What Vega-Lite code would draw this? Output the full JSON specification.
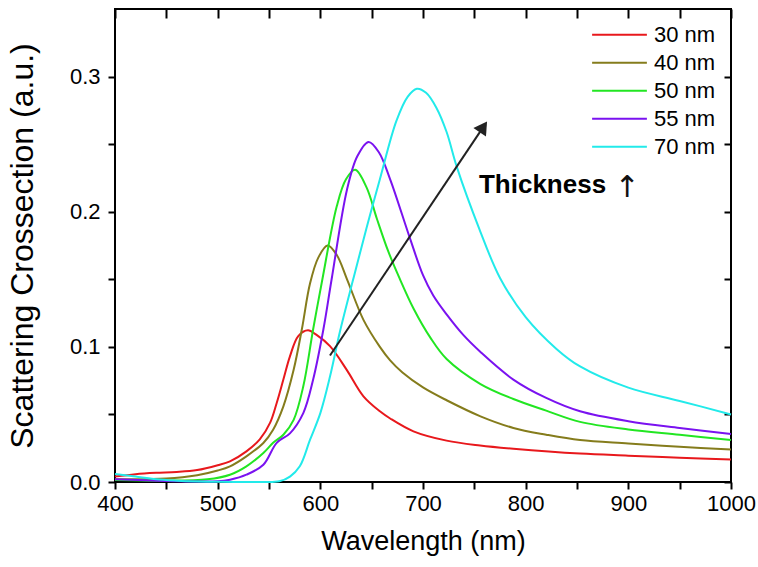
{
  "$schema": "https://vega.github.io/schema/vega-lite/v6.json",
  "width": 616,
  "height": 473,
  "autosize": {"type": "none"},
  "padding": {"left": 115, "top": 9, "right": 27, "bottom": 85},
  "background": "#ffffff",
  "config": {
    "view": {"stroke": "#000000", "strokeWidth": 2},
    "font": "Liberation Sans"
  },
  "datasets": {
    "curves": [
      {"series": "30 nm", "wl": 400, "val": 0.004},
      {"series": "30 nm", "wl": 420, "val": 0.0058},
      {"series": "30 nm", "wl": 440, "val": 0.0068},
      {"series": "30 nm", "wl": 460, "val": 0.0074},
      {"series": "30 nm", "wl": 480, "val": 0.0088},
      {"series": "30 nm", "wl": 500, "val": 0.0124},
      {"series": "30 nm", "wl": 512, "val": 0.0153},
      {"series": "30 nm", "wl": 528, "val": 0.0227},
      {"series": "30 nm", "wl": 541, "val": 0.0315},
      {"series": "30 nm", "wl": 551, "val": 0.0437},
      {"series": "30 nm", "wl": 557.5, "val": 0.0585},
      {"series": "30 nm", "wl": 564, "val": 0.0758},
      {"series": "30 nm", "wl": 570.4, "val": 0.093},
      {"series": "30 nm", "wl": 578.5, "val": 0.108},
      {"series": "30 nm", "wl": 588, "val": 0.1123},
      {"series": "30 nm", "wl": 596, "val": 0.109},
      {"series": "30 nm", "wl": 609.4, "val": 0.1005},
      {"series": "30 nm", "wl": 625.7, "val": 0.083},
      {"series": "30 nm", "wl": 642, "val": 0.0634},
      {"series": "30 nm", "wl": 658, "val": 0.0523},
      {"series": "30 nm", "wl": 668, "val": 0.047},
      {"series": "30 nm", "wl": 690.7, "val": 0.0375},
      {"series": "30 nm", "wl": 723, "val": 0.0306},
      {"series": "30 nm", "wl": 755.6, "val": 0.027},
      {"series": "30 nm", "wl": 788, "val": 0.0246},
      {"series": "30 nm", "wl": 853, "val": 0.021},
      {"series": "30 nm", "wl": 900, "val": 0.0195},
      {"series": "30 nm", "wl": 950, "val": 0.018},
      {"series": "30 nm", "wl": 1000, "val": 0.0166},

      {"series": "40 nm", "wl": 400, "val": 0.002},
      {"series": "40 nm", "wl": 450, "val": 0.0025},
      {"series": "40 nm", "wl": 480, "val": 0.005},
      {"series": "40 nm", "wl": 500, "val": 0.0085},
      {"series": "40 nm", "wl": 512, "val": 0.0116},
      {"series": "40 nm", "wl": 528, "val": 0.019},
      {"series": "40 nm", "wl": 544.5, "val": 0.0289},
      {"series": "40 nm", "wl": 554, "val": 0.0387},
      {"series": "40 nm", "wl": 564, "val": 0.056},
      {"series": "40 nm", "wl": 574, "val": 0.083},
      {"series": "40 nm", "wl": 582, "val": 0.113},
      {"series": "40 nm", "wl": 590, "val": 0.147},
      {"series": "40 nm", "wl": 598, "val": 0.166},
      {"series": "40 nm", "wl": 607, "val": 0.175},
      {"series": "40 nm", "wl": 616, "val": 0.168},
      {"series": "40 nm", "wl": 626, "val": 0.15},
      {"series": "40 nm", "wl": 642, "val": 0.12},
      {"series": "40 nm", "wl": 658, "val": 0.1},
      {"series": "40 nm", "wl": 668, "val": 0.09},
      {"series": "40 nm", "wl": 680, "val": 0.081},
      {"series": "40 nm", "wl": 700, "val": 0.07},
      {"series": "40 nm", "wl": 723, "val": 0.0605},
      {"series": "40 nm", "wl": 756, "val": 0.0486},
      {"series": "40 nm", "wl": 788, "val": 0.04},
      {"series": "40 nm", "wl": 820, "val": 0.035},
      {"series": "40 nm", "wl": 853, "val": 0.031},
      {"series": "40 nm", "wl": 900, "val": 0.0285},
      {"series": "40 nm", "wl": 950, "val": 0.026},
      {"series": "40 nm", "wl": 1000, "val": 0.024},

      {"series": "50 nm", "wl": 400, "val": 0.0015},
      {"series": "50 nm", "wl": 450, "val": 0.001},
      {"series": "50 nm", "wl": 490, "val": 0.002},
      {"series": "50 nm", "wl": 512, "val": 0.0054},
      {"series": "50 nm", "wl": 528, "val": 0.0116},
      {"series": "50 nm", "wl": 544.5, "val": 0.0215},
      {"series": "50 nm", "wl": 554, "val": 0.029},
      {"series": "50 nm", "wl": 564, "val": 0.035},
      {"series": "50 nm", "wl": 574, "val": 0.046},
      {"series": "50 nm", "wl": 583.4, "val": 0.0708},
      {"series": "50 nm", "wl": 593, "val": 0.113},
      {"series": "50 nm", "wl": 602, "val": 0.15},
      {"series": "50 nm", "wl": 616, "val": 0.204},
      {"series": "50 nm", "wl": 625, "val": 0.224},
      {"series": "50 nm", "wl": 634, "val": 0.231},
      {"series": "50 nm", "wl": 645, "val": 0.218},
      {"series": "50 nm", "wl": 655, "val": 0.195},
      {"series": "50 nm", "wl": 666, "val": 0.171},
      {"series": "50 nm", "wl": 677, "val": 0.151},
      {"series": "50 nm", "wl": 691, "val": 0.128},
      {"series": "50 nm", "wl": 707, "val": 0.107},
      {"series": "50 nm", "wl": 723, "val": 0.091},
      {"series": "50 nm", "wl": 756, "val": 0.0725},
      {"series": "50 nm", "wl": 788, "val": 0.0614},
      {"series": "50 nm", "wl": 820, "val": 0.0528},
      {"series": "50 nm", "wl": 853, "val": 0.0445},
      {"series": "50 nm", "wl": 900, "val": 0.0389},
      {"series": "50 nm", "wl": 950, "val": 0.035},
      {"series": "50 nm", "wl": 1000, "val": 0.031},

      {"series": "55 nm", "wl": 400, "val": 0.002},
      {"series": "55 nm", "wl": 450, "val": 0.0008},
      {"series": "55 nm", "wl": 500, "val": 0.0005},
      {"series": "55 nm", "wl": 512, "val": 0.0017},
      {"series": "55 nm", "wl": 528, "val": 0.0054},
      {"series": "55 nm", "wl": 544.5, "val": 0.0128},
      {"series": "55 nm", "wl": 557.5, "val": 0.029},
      {"series": "55 nm", "wl": 570.4, "val": 0.036},
      {"series": "55 nm", "wl": 583.4, "val": 0.051},
      {"series": "55 nm", "wl": 593, "val": 0.0758},
      {"series": "55 nm", "wl": 603, "val": 0.113},
      {"series": "55 nm", "wl": 611, "val": 0.15},
      {"series": "55 nm", "wl": 626, "val": 0.2165},
      {"series": "55 nm", "wl": 636, "val": 0.241},
      {"series": "55 nm", "wl": 647, "val": 0.2516},
      {"series": "55 nm", "wl": 657, "val": 0.244},
      {"series": "55 nm", "wl": 668, "val": 0.224},
      {"series": "55 nm", "wl": 687, "val": 0.181},
      {"series": "55 nm", "wl": 700, "val": 0.153},
      {"series": "55 nm", "wl": 710, "val": 0.138},
      {"series": "55 nm", "wl": 723, "val": 0.124},
      {"series": "55 nm", "wl": 739, "val": 0.109},
      {"series": "55 nm", "wl": 756, "val": 0.0962},
      {"series": "55 nm", "wl": 788, "val": 0.0758},
      {"series": "55 nm", "wl": 820, "val": 0.0622},
      {"series": "55 nm", "wl": 853, "val": 0.0523},
      {"series": "55 nm", "wl": 900, "val": 0.045},
      {"series": "55 nm", "wl": 950, "val": 0.04},
      {"series": "55 nm", "wl": 1000, "val": 0.0356},

      {"series": "70 nm", "wl": 400, "val": 0.006},
      {"series": "70 nm", "wl": 420, "val": 0.004},
      {"series": "70 nm", "wl": 440, "val": 0.002},
      {"series": "70 nm", "wl": 460, "val": 0.001},
      {"series": "70 nm", "wl": 480, "val": 0.0004},
      {"series": "70 nm", "wl": 500, "val": 0.0001},
      {"series": "70 nm", "wl": 540, "val": 0.0},
      {"series": "70 nm", "wl": 560, "val": 0.0005},
      {"series": "70 nm", "wl": 570.4, "val": 0.004},
      {"series": "70 nm", "wl": 580, "val": 0.0116},
      {"series": "70 nm", "wl": 590, "val": 0.0313},
      {"series": "70 nm", "wl": 600, "val": 0.051},
      {"series": "70 nm", "wl": 609.4, "val": 0.078},
      {"series": "70 nm", "wl": 619, "val": 0.111},
      {"series": "70 nm", "wl": 632, "val": 0.15},
      {"series": "70 nm", "wl": 645, "val": 0.188},
      {"series": "70 nm", "wl": 658, "val": 0.224},
      {"series": "70 nm", "wl": 674, "val": 0.267},
      {"series": "70 nm", "wl": 685, "val": 0.285},
      {"series": "70 nm", "wl": 694, "val": 0.291},
      {"series": "70 nm", "wl": 703, "val": 0.288},
      {"series": "70 nm", "wl": 713, "val": 0.277},
      {"series": "70 nm", "wl": 723, "val": 0.259},
      {"series": "70 nm", "wl": 733, "val": 0.233},
      {"series": "70 nm", "wl": 755, "val": 0.187},
      {"series": "70 nm", "wl": 775, "val": 0.151},
      {"series": "70 nm", "wl": 800, "val": 0.122},
      {"series": "70 nm", "wl": 830, "val": 0.0985},
      {"series": "70 nm", "wl": 853, "val": 0.0855},
      {"series": "70 nm", "wl": 900, "val": 0.0698},
      {"series": "70 nm", "wl": 950, "val": 0.06},
      {"series": "70 nm", "wl": 1000, "val": 0.05}
    ],
    "arrow": [
      {"x1": 609.4, "y1": 0.0936, "x2": 758.8, "y2": 0.2628}
    ],
    "arrowhead": [
      {"wl": 758.8, "val": 0.2628}
    ],
    "note": [
      {"wl": 754.5, "val": 0.2195, "label": "Thickness"}
    ],
    "noteArrow": [
      {"wl": 898.7, "val": 0.2173, "label": "↑"}
    ]
  },
  "resolve": {"axis": {"x": "independent", "y": "independent"}},
  "layer": [
    {
      "data": {"name": "curves"},
      "mark": {"type": "line", "strokeWidth": 2, "interpolate": "catmull-rom"},
      "encoding": {
        "x": {
          "field": "wl", "type": "quantitative",
          "scale": {"domain": [400, 1000], "nice": false, "zero": false},
          "axis": {
            "orient": "bottom",
            "values": [400, 450, 500, 550, 600, 650, 700, 750, 800, 850, 900, 950, 1000],
            "labelExpr": "datum.value % 100 === 0 ? datum.label : ''",
            "format": "d",
            "domain": false, "grid": false,
            "tickSize": 7, "tickWidth": 2, "tickColor": "#000000",
            "labelFont": "Liberation Sans", "labelFontSize": 22, "labelColor": "#000000",
            "labelPadding": 4, "labelFlush": false, "labelOverlap": false,
            "title": "Wavelength (nm)",
            "titleFont": "Liberation Sans", "titleFontSize": 27, "titleFontWeight": "normal",
            "titleColor": "#000000", "titlePadding": 14
          }
        },
        "y": {
          "field": "val", "type": "quantitative",
          "scale": {"domain": [0, 0.35], "nice": false, "zero": false},
          "axis": {
            "orient": "left",
            "values": [0, 0.05, 0.1, 0.15, 0.2, 0.25, 0.3],
            "labelExpr": "round(datum.value * 20) % 2 === 0 ? format(datum.value, '.1f') : ''",
            "domain": false, "grid": false,
            "tickSize": 7, "tickWidth": 2, "tickColor": "#000000",
            "labelFont": "Liberation Sans", "labelFontSize": 22, "labelColor": "#000000",
            "labelPadding": 8, "labelFlush": false, "labelOverlap": false,
            "title": "Scattering Crossection (a.u.)",
            "titleFont": "Liberation Sans", "titleFontSize": 32, "titleFontWeight": "normal",
            "titleColor": "#000000", "titlePadding": 30
          }
        },
        "color": {
          "field": "series", "type": "nominal",
          "scale": {
            "domain": ["30 nm", "40 nm", "50 nm", "55 nm", "70 nm"],
            "range": ["#e8181c", "#857c1c", "#22e622", "#7a12f0", "#22eaea"]
          },
          "legend": {
            "orient": "none", "legendX": 476, "legendY": 12,
            "title": null,
            "symbolType": "stroke", "symbolSize": 3000, "symbolStrokeWidth": 2,
            "clipHeight": 27.6, "rowPadding": 0, "padding": 0,
            "labelFont": "Liberation Sans", "labelFontSize": 22, "labelColor": "#000000",
            "labelOffset": 6
          }
        }
      }
    },
    {
      "data": {"name": "arrow"},
      "mark": {"type": "rule", "color": "#222222", "strokeWidth": 2},
      "encoding": {
        "x": {
          "field": "x1", "type": "quantitative",
          "axis": {
            "orient": "top",
            "values": [400, 450, 500, 550, 600, 650, 700, 750, 800, 850, 900, 950, 1000],
            "labels": false, "domain": false, "grid": false, "title": null,
            "tickSize": -9, "tickWidth": 2, "tickColor": "#000000"
          }
        },
        "x2": {"field": "x2"},
        "y": {
          "field": "y1", "type": "quantitative",
          "axis": {
            "orient": "right",
            "values": [0, 0.05, 0.1, 0.15, 0.2, 0.25, 0.3],
            "labels": false, "domain": false, "grid": false, "title": null,
            "tickSize": -7, "tickWidth": 2, "tickColor": "#000000"
          }
        },
        "y2": {"field": "y2"}
      }
    },
    {
      "data": {"name": "arrowhead"},
      "mark": {"type": "point", "shape": "triangle-up", "filled": true, "color": "#222222", "opacity": 1, "size": 230, "angle": 34},
      "encoding": {
        "x": {"field": "wl", "type": "quantitative", "axis": null},
        "y": {"field": "val", "type": "quantitative", "axis": null}
      }
    },
    {
      "data": {"name": "note"},
      "mark": {"type": "text", "align": "left", "baseline": "middle", "font": "Liberation Sans", "fontSize": 26, "fontWeight": "bold", "color": "#000000"},
      "encoding": {
        "x": {"field": "wl", "type": "quantitative", "axis": null},
        "y": {"field": "val", "type": "quantitative", "axis": null},
        "text": {"field": "label"}
      }
    },
    {
      "data": {"name": "noteArrow"},
      "mark": {"type": "text", "align": "center", "baseline": "middle", "font": "DejaVu Sans", "fontSize": 30, "fontWeight": "normal", "color": "#111111"},
      "encoding": {
        "x": {"field": "wl", "type": "quantitative", "axis": null},
        "y": {"field": "val", "type": "quantitative", "axis": null},
        "text": {"field": "label"}
      }
    }
  ]
}
